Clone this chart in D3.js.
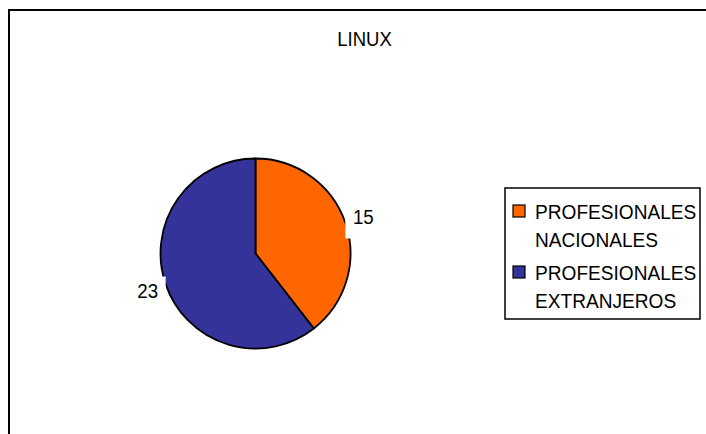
<!DOCTYPE html>
<html>
<head>
<meta charset="utf-8">
<script src="https://cdn.jsdelivr.net/npm/d3@7"></script>
<style>
  html, body { margin: 0; padding: 0; background: #fff; }
  svg { display: block; font-family: "Liberation Sans", Arial, sans-serif; }
</style>
</head>
<body>
<div id="chart"></div>
<script>
const title = "LINUX";
const categories = ["PROFESIONALES NACIONALES", "PROFESIONALES EXTRANJEROS"];
const values = [15, 23];
const colors = ["#FF6600", "#333399"];

const width = 706, height = 434;

const svg = d3.select("#chart").append("svg")
  .attr("width", width)
  .attr("height", height);

// outer chart frame (runs past the right/bottom edge)
svg.append("rect")
  .attr("x", 9).attr("y", 10)
  .attr("width", 740).attr("height", 460)
  .attr("fill", "#fff")
  .attr("stroke", "#000")
  .attr("stroke-width", 2);

svg.append("g")
  .attr("transform", "translate(364.5,46) scale(0.95,1)")
  .append("text")
  .attr("text-anchor", "middle")
  .style("font-size", "19.5px")
  .text(title);

// Pie
const cx = 255.5, cy = 253.5, r = 95;
const g = svg.append("g").attr("transform", `translate(${cx},${cy})`);

const pie = d3.pie().sort(null).value(d => d);
const arcs = pie(values);
const arc = d3.arc().innerRadius(0).outerRadius(r);
const labelArc = d3.arc().innerRadius(114).outerRadius(114);

g.selectAll("path.slice")
  .data(arcs)
  .join("path")
  .attr("class", "slice")
  .attr("d", arc)
  .attr("fill", (d, i) => colors[i])
  .attr("stroke", "#000")
  .attr("stroke-width", 1.8)
  .attr("stroke-linejoin", "round");

// labels with white backgrounds
const labels = g.selectAll("g.lbl")
  .data(arcs)
  .join("g")
  .attr("class", "lbl")
  .attr("transform", d => `translate(${labelArc.centroid(d)})`);

labels.append("rect")
  .attr("x", -18).attr("y", -14)
  .attr("width", 36).attr("height", 36)
  .attr("fill", "#fff");

labels.append("text")
  .attr("text-anchor", "middle")
  .attr("dy", "0.36em")
  .attr("transform", "scale(0.96,1)")
  .style("font-size", "19.5px")
  .text(d => d.data);

// Legend
const legend = svg.append("g");
legend.append("rect")
  .attr("x", 505).attr("y", 188)
  .attr("width", 195).attr("height", 131)
  .attr("fill", "#fff")
  .attr("stroke", "#000")
  .attr("stroke-width", 1.5);

const items = legend.selectAll("g.item")
  .data(categories)
  .join("g")
  .attr("class", "item")
  .attr("transform", (d, i) => `translate(513,${205 + i * 61})`);

items.append("rect")
  .attr("width", 12).attr("height", 12)
  .attr("fill", (d, i) => colors[i])
  .attr("stroke", "#000")
  .attr("stroke-width", 1.2);

items.append("g")
  .attr("transform", "translate(22,0) scale(0.91,1)")
  .append("text")
  .style("font-size", "21px")
  .selectAll("tspan")
  .data(d => d.split(" "))
  .join("tspan")
  .attr("x", 0)
  .attr("y", (d, i) => 14 + i * 28)
  .text(d => d);
</script>
</body>
</html>
